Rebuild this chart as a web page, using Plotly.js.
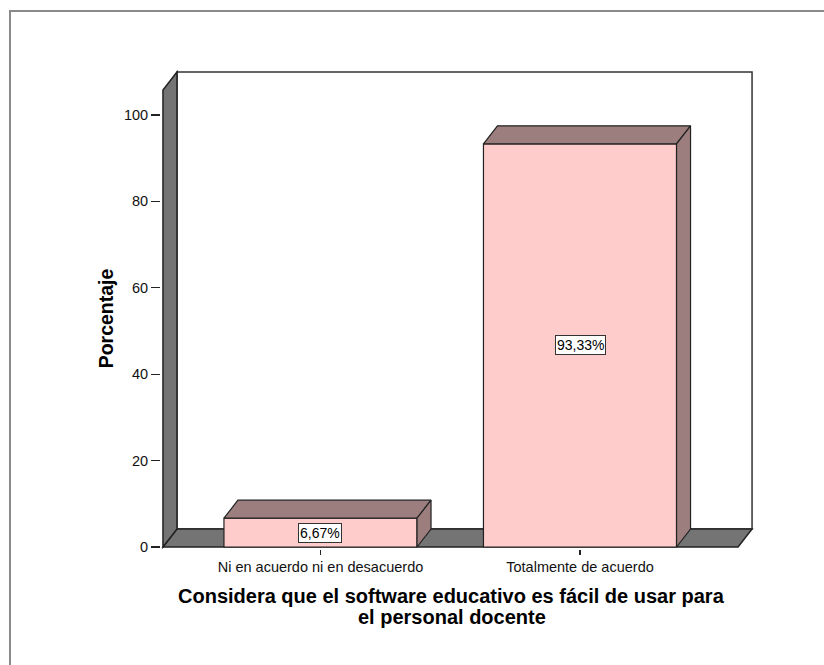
<!DOCTYPE html>
<html>
<head>
<meta charset="utf-8">
<script src="https://cdn.plot.ly/plotly-3.0.1.min.js"></script>
<style>
  html, body { margin: 0; padding: 0; background: #fff; }
  #wrap { position: relative; width: 824px; height: 665px; overflow: hidden; }
  #chart { position: absolute; left: 0; top: 0; width: 824px; height: 665px; }
  #frame { position: absolute; left: 9px; top: 10px; width: 900px; height: 800px;
           border-left: 2px solid #8a8a8a; border-top: 2px solid #8a8a8a; pointer-events: none; }
</style>
</head>
<body>
<div id="wrap"><div id="chart"></div><div id="frame"></div></div>
<script>
// ---- data ----
var categories = ["Ni en acuerdo ni en desacuerdo", "Totalmente de acuerdo"];
var values = [6.67, 93.33];
var valueLabels = ["6,67%", "93,33%"];
var yTickVals = [0, 20, 40, 60, 80, 100];
var yTitle = "Porcentaje";
var xTitleLines = ["Considera que el software educativo es fácil de usar para", "el personal docente"];

// ---- style / geometry ----
var FONT = "Liberation Sans, Arial, sans-serif";
var FRONT = "#FFCCCC", SHADE = "#9d7e7e", WALL = "#747474", EDGE = "#222";
var pxPerX = 259.5, pxPerY = 4.32;
var DX = 14 / pxPerX, DY = 18 / pxPerY;      // 3-D depth offsets in data units
var barWidth = 0.744;
var xRange = [-0.6146, 1.6705], yRange = [-0.463, 110.42];
var xL = -0.607, xR = 1.663, wallTop = 105.8;

var idx = categories.map(function (c, i) { return i; });

var traces = [{
  type: "bar", x: idx, y: values, width: barWidth,
  marker: { color: FRONT, line: { color: EDGE, width: 1.2 } },
  hoverinfo: "skip", showlegend: false
}];

idx.forEach(function (i) {
  var v = values[i], x0 = i - barWidth / 2, x1 = i + barWidth / 2;
  traces.push({
    type: "scatter", mode: "lines", fill: "toself", fillcolor: SHADE,
    line: { color: EDGE, width: 1.2 }, hoverinfo: "skip", showlegend: false,
    x: [x0, x1, x1 + DX, x0 + DX, x0], y: [v, v, v + DY, v + DY, v]
  });
  traces.push({
    type: "scatter", mode: "lines", fill: "toself", fillcolor: SHADE,
    line: { color: EDGE, width: 1.2 }, hoverinfo: "skip", showlegend: false,
    x: [x1, x1, x1 + DX, x1 + DX, x1], y: [0, v, v + DY, DY, 0]
  });
});

var shapes = [
  { type: "rect", layer: "below", xref: "x", yref: "y", x0: xL + DX, x1: xR, y0: DY, y1: wallTop + DY,
    fillcolor: "#fff", line: { color: "#333", width: 1.5 } },
  { type: "path", layer: "below", xref: "x", yref: "y",
    path: "M" + xL + ",0 L" + (xR - DX) + ",0 L" + xR + "," + DY + " L" + (xL + DX) + "," + DY + " Z",
    fillcolor: WALL, line: { color: EDGE, width: 1.5 } },
  { type: "path", layer: "below", xref: "x", yref: "y",
    path: "M" + xL + ",0 L" + xL + "," + wallTop + " L" + (xL + DX) + "," + (wallTop + DY) + " L" + (xL + DX) + "," + DY + " Z",
    fillcolor: WALL, line: { color: EDGE, width: 1.5 } }
];

var annotations = idx.map(function (i) {
  return { x: i, y: values[i] / 2, xref: "x", yref: "y", text: valueLabels[i], showarrow: false,
    font: { family: FONT, size: 14, color: "#000" }, bgcolor: "#fff", bordercolor: "#333",
    borderwidth: 1, borderpad: 1 };
});
annotations.push({ x: -0.093, y: 0.4812, xref: "paper", yref: "paper", text: "<b>" + yTitle + "</b>",
  textangle: -90, showarrow: false, xanchor: "center", yanchor: "middle",
  font: { family: FONT, size: 19.5, color: "#000" } });
var titleY = [-0.098, -0.142];
xTitleLines.forEach(function (t, k) {
  annotations.push({ x: 0.4907, y: titleY[k], xref: "paper", yref: "paper", text: "<b>" + t + "</b>",
    showarrow: false, xanchor: "center", yanchor: "middle",
    font: { family: FONT, size: 20, color: "#000" } });
});

var layout = {
  width: 824, height: 665, autosize: false,
  margin: { l: 161, r: 70, t: 70, b: 116, pad: 0 },
  paper_bgcolor: "#fff", plot_bgcolor: "rgba(0,0,0,0)",
  showlegend: false,
  xaxis: { type: "linear", range: xRange, tickvals: idx, ticktext: categories,
    showgrid: false, zeroline: false, showline: false, ticks: "outside", ticklen: 5,
    tickcolor: "#222", tickwidth: 1.2, tickfont: { family: FONT, size: 14.5, color: "#111" }, fixedrange: true },
  yaxis: { range: yRange, tickvals: yTickVals, showgrid: false, zeroline: false, showline: false,
    ticks: "outside", ticklen: 9, tickcolor: "#222", tickwidth: 1.2,
    tickfont: { family: FONT, size: 14.5, color: "#111" }, fixedrange: true },
  shapes: shapes, annotations: annotations
};

Plotly.newPlot("chart", traces, layout, { displayModeBar: false, staticPlot: true });
</script>
</body>
</html>
